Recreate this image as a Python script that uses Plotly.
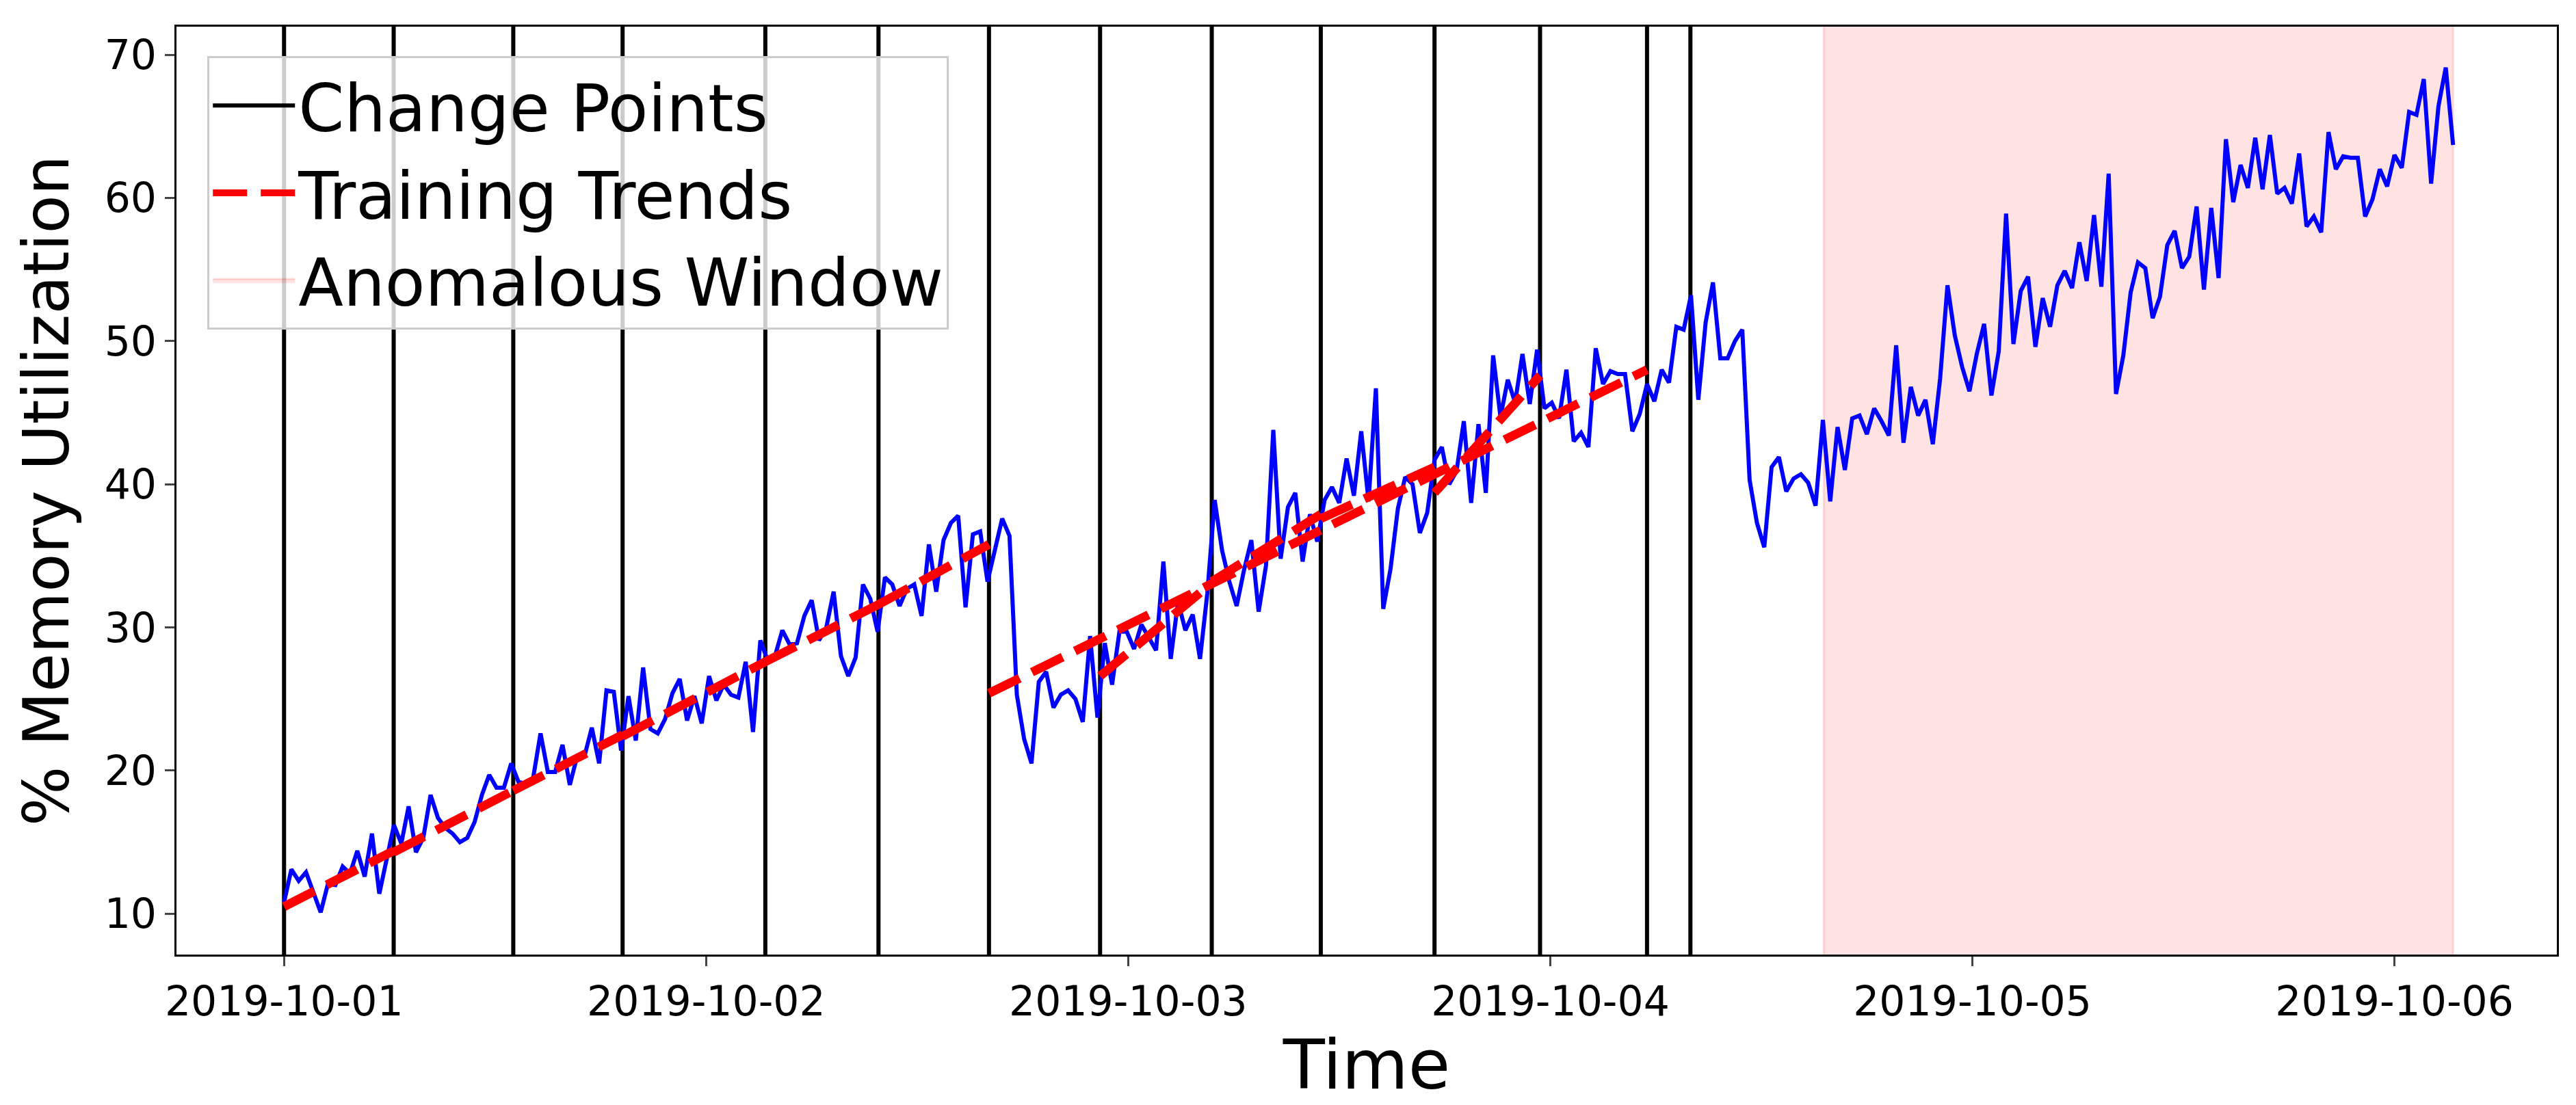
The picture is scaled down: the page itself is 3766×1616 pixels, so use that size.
import pandas as pd
import plotly.graph_objects as go

# memory utilisation, one sample every 25 minutes from 2019-10-01 00:00
memory = [
    10.8, 13.1, 12.3, 12.9, 11.5, 10.1, 12.1, 12.0, 13.3, 12.8, 14.4, 12.6, 15.6, 11.4, 13.8, 16.2,
    14.9, 17.5, 14.3, 15.3, 18.3, 16.7, 16.0, 15.6, 15.0, 15.3, 16.4, 18.3, 19.7, 18.8, 18.8, 20.5,
    19.2, 19.1, 19.5, 22.6, 19.9, 19.9, 21.8, 19.0, 21.0, 21.0, 23.0, 20.5, 25.6, 25.5, 21.4, 25.2,
    22.1, 27.2, 22.9, 22.6, 23.6, 25.4, 26.4, 23.5, 25.2, 23.3, 26.6, 24.9, 26.0, 25.3, 25.1, 27.6,
    22.7, 29.1, 27.7, 28.0, 29.8, 28.8, 28.9, 30.8, 31.9, 29.1, 30.0, 32.5, 28.0, 26.6, 27.9, 33.0,
    32.0, 29.7, 33.5, 33.0, 31.5, 32.7, 33.0, 30.8, 35.8, 32.5, 36.1, 37.3, 37.8, 31.4, 36.5, 36.7,
    33.2, 35.5, 37.6, 36.4, 25.3, 22.2, 20.5, 26.2, 26.9, 24.4, 25.3, 25.6, 25.0, 23.4, 29.4, 23.7,
    28.9, 26.0, 29.7, 29.7, 28.5, 30.2, 29.3, 28.4, 34.6, 27.8, 31.8, 29.8, 30.9, 27.8, 32.4, 38.9,
    35.4, 33.2, 31.5, 34.0, 36.1, 31.1, 34.3, 43.8, 34.8, 38.4, 39.4, 34.6, 37.9, 36.0, 38.9, 39.8,
    38.7, 41.8, 39.2, 43.7, 38.8, 46.7, 31.3, 34.1, 38.3, 40.5, 40.0, 36.6, 38.0, 41.7, 42.6, 40.0,
    40.9, 44.4, 38.7, 44.2, 39.4, 49.0, 44.7, 47.3, 45.7, 49.1, 45.6, 49.4, 45.3, 45.7, 44.6, 48.0,
    43.0, 43.6, 42.6, 49.5, 47.0, 47.9, 47.7, 47.7, 43.7, 44.9, 47.0, 45.8, 48.0, 47.1, 51.0, 50.8,
    53.2, 45.9, 51.3, 54.1, 48.8, 48.8, 50.0, 50.8, 40.3, 37.3, 35.6, 41.2, 41.9, 39.5, 40.4, 40.7,
    40.1, 38.5, 44.5, 38.8, 44.0, 41.0, 44.6, 44.8, 43.5, 45.3, 44.4, 43.4, 49.7, 42.9, 46.8, 44.8,
    45.9, 42.8, 47.4, 53.9, 50.4, 48.2, 46.5, 49.1, 51.2, 46.2, 49.3, 58.9, 49.8, 53.5, 54.5, 49.6,
    53.0, 51.0, 53.9, 54.9, 53.7, 56.9, 54.2, 58.8, 53.8, 61.7, 46.3, 49.0, 53.4, 55.5, 55.1, 51.6,
    53.1, 56.7, 57.7, 55.1, 55.9, 59.4, 53.6, 59.3, 54.4, 64.1, 59.7, 62.3, 60.7, 64.2, 60.6, 64.4,
    60.3, 60.7, 59.6, 63.1, 58.0, 58.7, 57.6, 64.6, 62.0, 62.9, 62.8, 62.8, 58.7, 59.9, 62.0, 60.8,
    63.0, 62.1, 66.0, 65.8, 68.3, 61.0, 66.4, 69.1, 63.7,
]
times = pd.date_range("2019-10-01 00:00", periods=len(memory), freq="25min")

change_points = [
    "2019-10-01 00:00", "2019-10-01 06:14", "2019-10-01 13:02", "2019-10-01 19:15",
    "2019-10-02 03:22", "2019-10-02 09:48", "2019-10-02 16:05", "2019-10-02 22:24",
    "2019-10-03 04:45", "2019-10-03 10:57", "2019-10-03 17:25", "2019-10-03 23:25",
    "2019-10-04 05:30", "2019-10-04 07:58",
]

# fitted training trends: start time, end time, start value, end value
trend_start = ["2019-10-01 00:00", "2019-10-01 06:14", "2019-10-01 13:02", "2019-10-01 19:15",
               "2019-10-02 03:22", "2019-10-02 09:48", "2019-10-02 16:05", "2019-10-02 22:24",
               "2019-10-03 04:45", "2019-10-03 10:57", "2019-10-03 17:25"]
trend_end = ["2019-10-01 06:14", "2019-10-01 13:02", "2019-10-01 19:15", "2019-10-02 03:22",
             "2019-10-02 09:48", "2019-10-02 16:05", "2019-10-04 05:30", "2019-10-03 04:45",
             "2019-10-03 10:57", "2019-10-03 17:25", "2019-10-03 23:25"]
trend_y0 = [10.5, 14.3, 18.6, 22.4, 27.6, 31.6, 25.4, 26.6, 33.2, 37.6, 39.4]
trend_y1 = [14.4, 18.6, 22.5, 27.6, 31.6, 35.8, 48.0, 33.1, 37.9, 41.2, 47.6]

anomaly_start = "2019-10-04 15:33"
anomaly_end = times[-1]

y_range = [7.15, 71.96]

fig = go.Figure()

# anomalous window drawn as a filled band past the axis limits (clipped by the plot)
fig.add_trace(go.Scatter(
    x=[anomaly_start, anomaly_start, anomaly_end, anomaly_end, anomaly_start],
    y=[y_range[0] - 10, y_range[1] + 10, y_range[1] + 10, y_range[0] - 10, y_range[0] - 10],
    mode="lines", fill="toself", fillcolor="rgba(255,0,0,0.11)",
    line=dict(color="rgba(255,0,0,0.13)", width=3),
    name="Anomalous Window", legendrank=1003, hoverinfo="skip"))

cx, cy = [], []
for t in change_points:
    cx += [t, t, None]
    cy += [y_range[0] - 5, y_range[1] + 5, None]
fig.add_trace(go.Scatter(x=cx, y=cy, mode="lines", name="Change Points",
                         line=dict(color="black", width=6), legendrank=1001))

fig.add_trace(go.Scatter(x=times, y=memory, mode="lines", showlegend=False,
                         line=dict(color="blue", width=6)))

tx, ty = [], []
for a, b, y0, y1 in zip(trend_start, trend_end, trend_y0, trend_y1):
    tx += [a, b, None]
    ty += [y0, y1, None]
fig.add_trace(go.Scatter(x=tx, y=ty, mode="lines", name="Training Trends",
                         line=dict(color="red", width=13, dash="50px,20px"),
                         legendrank=1002))

fig.update_layout(
    width=3766, height=1616,
    margin=dict(l=250, r=36, t=31, b=228),
    paper_bgcolor="white", plot_bgcolor="white",
    font=dict(family="DejaVu Sans", color="black", size=60),
    legend=dict(x=0.013, y=0.968, xanchor="left", yanchor="top",
                font=dict(size=96), bgcolor="rgba(255,255,255,0.8)",
                bordercolor="#cccccc", borderwidth=3, itemwidth=120,
                tracegroupgap=0),
)
fig.update_xaxes(
    range=["2019-09-30 17:53", "2019-10-06 09:14"],
    tickvals=pd.date_range("2019-10-01", "2019-10-06", freq="D"),
    tickformat="%Y-%m-%d", ticks="outside", ticklen=14, tickwidth=3,
    showline=True, linewidth=3, linecolor="black", mirror=True, showgrid=False,
    zeroline=False, tickfont=dict(size=60),
    title=dict(text="Time", font=dict(size=100), standoff=22),
)
fig.update_yaxes(
    range=y_range, tickvals=[10, 20, 30, 40, 50, 60, 70],
    ticks="outside", ticklen=14, tickwidth=3,
    showline=True, linewidth=3, linecolor="black", mirror=True, showgrid=False,
    zeroline=False, tickfont=dict(size=60),
    title=dict(text="% Memory Utilization", font=dict(size=92), standoff=22),
)

fig.write_html("out.html")
